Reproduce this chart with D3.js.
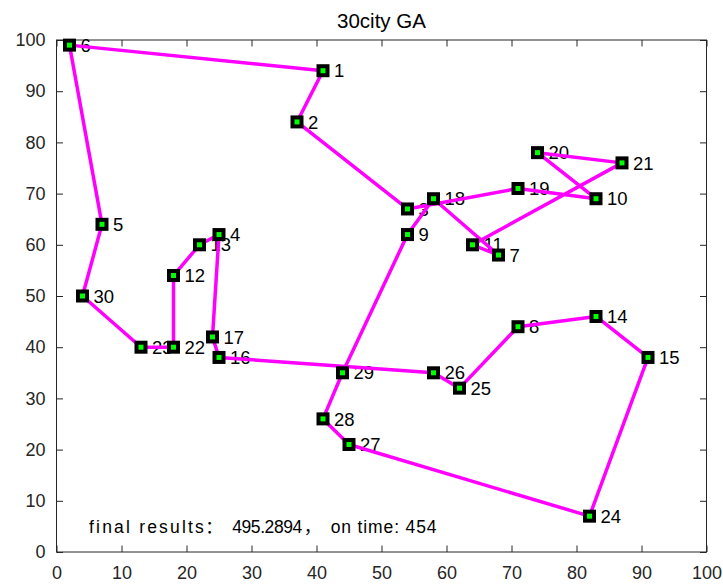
<!DOCTYPE html>
<html>
<head>
<meta charset="utf-8">
<script src="https://cdn.jsdelivr.net/npm/d3@7"></script>
<style>
  body { margin: 0; background: #fff; }
  text { font-family: "Liberation Sans", Arial, "Noto Sans CJK SC", sans-serif; }
</style>
</head>
<body>
<div id="chart"></div>
<script>
// city coordinates (city number = index + 1)
const cityX = [41, 37, 54, 25, 7, 2, 68, 71, 54, 83, 64, 18, 22, 83, 91, 25, 24, 58, 71, 74, 87, 18, 13, 82, 62, 58, 45, 41, 44, 4];
const cityY = [94, 84, 67, 62, 64, 99, 58, 44, 62, 69, 60, 54, 60, 46, 38, 38, 42, 69, 71, 78, 76, 40, 40, 7, 32, 35, 21, 26, 35, 50];

// best route found by the GA (city numbers)
const route = [6, 1, 2, 3, 19, 10, 20, 21, 11, 7, 18, 9, 29, 28, 27, 24, 15, 14, 8, 25, 26, 16, 17, 4, 13, 12, 22, 23, 30, 5];

const xTicks = d3.range(0, 101, 10);
const yTicks = d3.range(0, 101, 10);

const titleText = "30city GA";
// "final results： 495.2894， on time: 454", split so it can be laid out
// on the half-width grid the original (CJK) font uses
const resultParts = ["final results", "：", "495.2894", "，", "on time: 454"];

const svgWidth = 723;
const svgHeight = 584;
const margin = { top: 40, right: 16.5, bottom: 32, left: 56.5 };
const chartWidth = svgWidth - margin.left - margin.right;
const chartHeight = svgHeight - margin.top - margin.bottom;

const svg = d3.select("#chart")
  .append("svg")
  .attr("width", svgWidth)
  .attr("height", svgHeight);

const chartGroup = svg.append("g")
  .attr("transform", `translate(${margin.left}, ${margin.top})`);

const xScale = d3.scaleLinear().domain([0, 100]).range([0, chartWidth]);
const yScale = d3.scaleLinear().domain([0, 100]).range([chartHeight, 0]);

const axisColor = "#262626";
const tickLen = 6.5;

// axes with inward ticks (box on, ticks mirrored on top/right)
function styleAxis(g) {
  g.select(".domain").remove();
  g.selectAll(".tick line").attr("stroke", axisColor).attr("stroke-width", 1);
  g.selectAll(".tick text")
    .attr("fill", axisColor)
    .style("font-size", "18px")
    .style("font-family", "'Liberation Sans', Arial, sans-serif");
}

chartGroup.append("g")
  .attr("transform", `translate(0, ${chartHeight})`)
  .call(d3.axisBottom(xScale).tickValues(xTicks).tickSize(-tickLen).tickPadding(14))
  .call(styleAxis);

chartGroup.append("g")
  .call(d3.axisLeft(yScale).tickValues(yTicks).tickSize(-tickLen).tickPadding(11))
  .call(styleAxis);

chartGroup.append("g")
  .call(d3.axisTop(xScale).tickValues(xTicks).tickSize(-tickLen).tickFormat(""))
  .call(styleAxis);

chartGroup.append("g")
  .attr("transform", `translate(${chartWidth}, 0)`)
  .call(d3.axisRight(yScale).tickValues(yTicks).tickSize(-tickLen).tickFormat(""))
  .call(styleAxis);

chartGroup.append("rect")
  .attr("x", 0).attr("y", 0)
  .attr("width", chartWidth).attr("height", chartHeight)
  .attr("fill", "none")
  .attr("stroke", axisColor)
  .attr("stroke-width", 1);

// title
svg.append("text")
  .attr("x", margin.left + chartWidth / 2)
  .attr("y", 28)
  .attr("text-anchor", "middle")
  .attr("fill", "#000")
  .style("font-size", "20.5px")
  .text(titleText);

// city number labels
const cities = cityX.map((x, i) => ({ id: i + 1, x: x, y: cityY[i] }));

chartGroup.selectAll(".cityLabel")
  .data(cities)
  .enter()
  .append("text")
  .attr("class", "cityLabel")
  .attr("x", d => xScale(d.x) + 11)
  .attr("y", d => yScale(d.y))
  .attr("dy", "0.36em")
  .attr("fill", "#000")
  .style("font-size", "18.5px")
  .text(d => d.id);

// route line (closed loop)
const routePoints = route.concat([route[0]]).map(c => cities[c - 1]);
const line = d3.line()
  .x(d => xScale(d.x))
  .y(d => yScale(d.y));

chartGroup.append("path")
  .datum(routePoints)
  .attr("d", line)
  .attr("fill", "none")
  .attr("stroke", "#ff00ff")
  .attr("stroke-width", 3.5)
  .attr("stroke-linejoin", "round");

// square markers: black edge, green face
chartGroup.selectAll(".cityMark")
  .data(cities)
  .enter()
  .append("rect")
  .attr("class", "cityMark")
  .attr("x", d => xScale(d.x) - 6.5)
  .attr("y", d => yScale(d.y) - 6.5)
  .attr("width", 13)
  .attr("height", 13)
  .attr("fill", "#000");

chartGroup.selectAll(".cityFace")
  .data(cities)
  .enter()
  .append("rect")
  .attr("class", "cityFace")
  .attr("x", d => xScale(d.x) - 2.5)
  .attr("y", d => yScale(d.y) - 2.5)
  .attr("width", 5)
  .attr("height", 5)
  .attr("fill", "#00ff00");

// result annotation: half-width cell grid (start cell, cell count)
const cell = 8.95;
const partStart = [0, 13, 16, 24, 27];
const partCells = [13, 2, 8, 2, 12];
const x0 = xScale(5);

chartGroup.selectAll(".resultText")
  .data(resultParts)
  .enter()
  .append("text")
  .attr("class", "resultText")
  .attr("x", (d, i) => x0 + partStart[i] * cell)
  .attr("y", yScale(5))
  .attr("dy", "0.36em")
  .attr("fill", "#000")
  .style("font-size", "17.5px")
  .style("font-family", (d, i) => partCells[i] === 2 ? "'Noto Sans CJK SC', sans-serif" : null)
  .attr("textLength", (d, i) => partCells[i] === 2 ? null : partCells[i] * cell - 1.5)
  .attr("lengthAdjust", "spacing")
  .text(d => d);
</script>
</body>
</html>
